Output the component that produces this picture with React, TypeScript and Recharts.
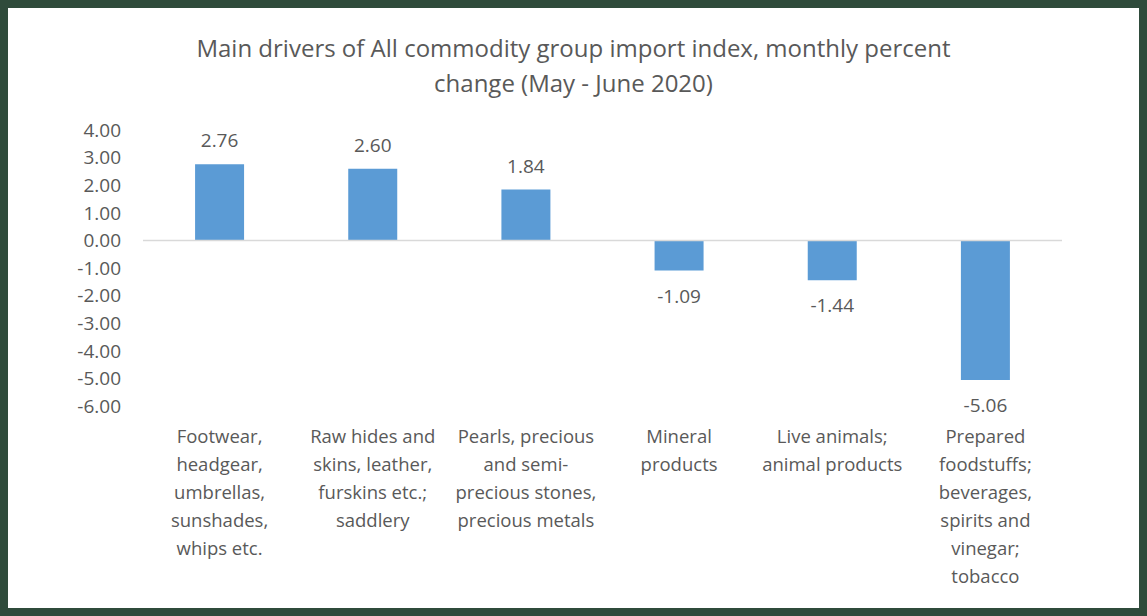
import React from "react";
import { BarChart, Bar, XAxis, YAxis, ReferenceLine, LabelList } from "recharts";

const categoryLines: string[][] = [
  ["Footwear,", "headgear,", "umbrellas,", "sunshades,", "whips etc."],
  ["Raw hides and", "skins, leather,", "furskins etc.;", "saddlery"],
  ["Pearls, precious", "and semi-", "precious stones,", "precious metals"],
  ["Mineral", "products"],
  ["Live animals;", "animal products"],
  ["Prepared", "foodstuffs;", "beverages,", "spirits and", "vinegar;", "tobacco"],
];
const values: number[] = [2.76, 2.6, 1.84, -1.09, -1.44, -5.06];
const yTicks: number[] = [4, 3, 2, 1, 0, -1, -2, -3, -4, -5, -6];
const titleLines: string[] = [
  "Main drivers of All commodity group import index, monthly percent",
  "change (May - June 2020)",
];

const data = values.map((v, i) => ({ key: String(i), value: v }));

const FONT = "'Open Sans', sans-serif";
const TEXT = "#595959";

const CategoryTick = (props: any) => {
  const { x, y, payload } = props;
  const lines = categoryLines[Number(payload.value)] || [];
  return (
    <g>
      {lines.map((l, i) => (
        <text
          key={i}
          x={x}
          y={y + 24 + i * 28}
          textAnchor="middle"
          dominantBaseline="middle"
          fill={TEXT}
          fontSize={18.5}
          fontFamily={FONT}
        >
          {l}
        </text>
      ))}
    </g>
  );
};

const ValueLabel = (props: any) => {
  const { x, y, width, height, value } = props;
  const top = Math.min(y, y + height);
  const bottom = Math.max(y, y + height);
  const cx = x + width / 2;
  const ty = value >= 0 ? top - 22 : bottom + 27;
  return (
    <text
      x={cx}
      y={ty}
      textAnchor="middle"
      dominantBaseline="middle"
      fill={TEXT}
      fontSize={19}
      fontFamily={FONT}
    >
      {Number(value).toFixed(2)}
    </text>
  );
};

export default function App() {
  return (
    <div
      style={{
        position: "absolute",
        left: 0,
        top: 0,
        width: 1147,
        height: 616,
        boxSizing: "border-box",
        border: "8px solid #2f4b3b",
        background: "#ffffff",
        overflow: "hidden",
      }}
    >
      <div
        style={{
          position: "absolute",
          left: 0,
          top: 22,
          width: 1131,
          textAlign: "center",
          fontFamily: FONT,
          fontSize: 24,
          lineHeight: "35px",
          color: TEXT,
        }}
      >
        {titleLines.map((t, i) => (
          <div key={i}>{t}</div>
        ))}
      </div>
      <div style={{ position: "absolute", left: 0, top: 0 }}>
        <BarChart
          width={1131}
          height={600}
          data={data}
          margin={{ top: 122, right: 77, bottom: 0, left: 0 }}
          barCategoryGap="34%"
        >
          <XAxis
            dataKey="key"
            axisLine={false}
            tickLine={false}
            tick={<CategoryTick />}
            height={202}
            interval={0}
          />
          <YAxis
            domain={[-6, 4]}
            ticks={yTicks}
            interval={0}
            axisLine={false}
            tickLine={false}
            width={135}
            tickFormatter={(v: number) => v.toFixed(2)}
            tick={{ fill: TEXT, fontSize: 19, fontFamily: FONT }}
            tickMargin={16}
          />
          <ReferenceLine y={0} stroke="#d9d9d9" strokeWidth={1.5} />
          <Bar dataKey="value" fill="#5b9bd5" isAnimationActive={false}>
            <LabelList dataKey="value" content={<ValueLabel />} />
          </Bar>
        </BarChart>
      </div>
    </div>
  );
}
